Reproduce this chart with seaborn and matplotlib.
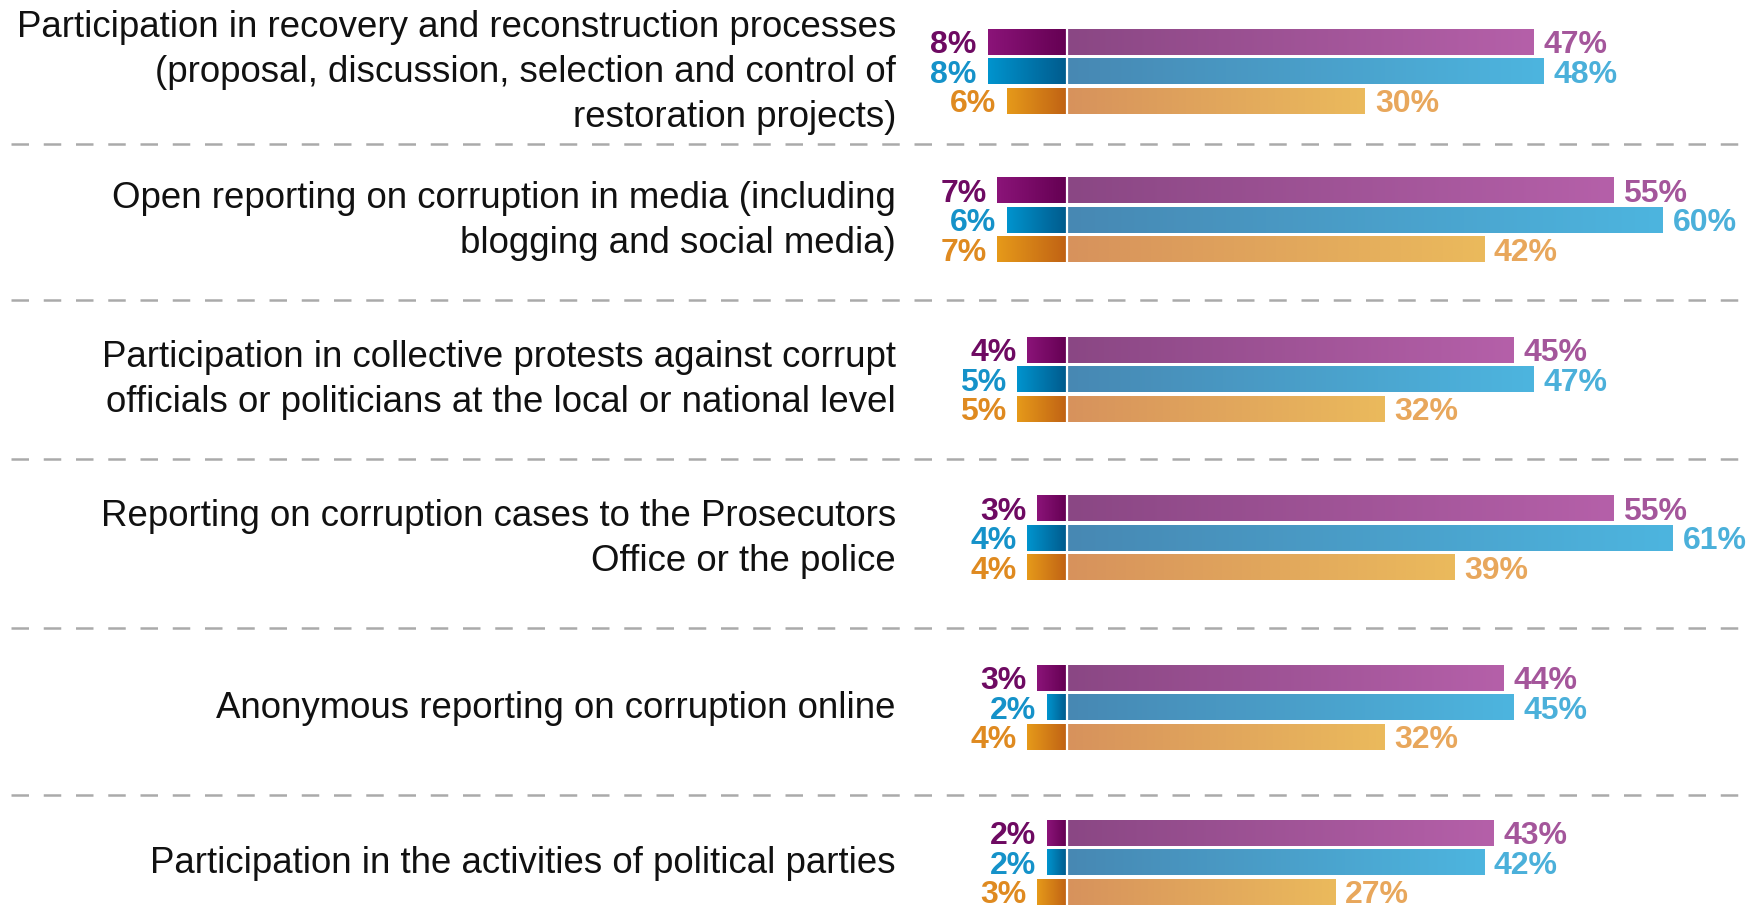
import matplotlib.pyplot as plt
import numpy as np
import pandas as pd
import seaborn as sns
from matplotlib.colors import LinearSegmentedColormap

# 항목(왼쪽 라벨)과 시리즈별 값
ITEMS = [
    "Participation in recovery and reconstruction processes\n(proposal, discussion, selection and control of\nrestoration projects)",
    "Open reporting on corruption in media (including\nblogging and social media)",
    "Participation in collective protests against corrupt\nofficials or politicians at the local or national level",
    "Reporting on corruption cases to the Prosecutors\nOffice or the police",
    "Anonymous reporting on corruption online",
    "Participation in the activities of political parties",
]
SERIES = ["purple", "blue", "orange"]

NEG_PURPLE = [8, 7, 4, 3, 3, 2]
NEG_BLUE = [8, 6, 5, 4, 2, 2]
NEG_ORANGE = [6, 7, 5, 4, 4, 3]

POS_PURPLE = [47, 55, 45, 55, 44, 43]
POS_BLUE = [48, 60, 47, 61, 45, 42]
POS_ORANGE = [30, 42, 32, 39, 32, 27]

# 레이아웃 (픽셀 단위, 위에서부터)
W, H = 1749, 909
ZERO_PX = 1067
PX_PER_PCT = 9.93
GROUP_CENTERS = [71.4, 219.8, 379.3, 537.7, 707.2, 862.3]
DIVIDERS = [143.9, 300.1, 458.5, 628.0, 795.4]
PITCH = 29.6

# 색상: (바깥쪽, 0 쪽) / (0 쪽, 끝)
NEG_GRAD = {
    "purple": ("#8B1479", "#640052"),
    "blue": ("#0094CE", "#005A8C"),
    "orange": ("#E69A1A", "#C06214"),
}
POS_GRAD = {
    "purple": ("#8A4784", "#B560A9"),
    "blue": ("#4788B3", "#4DB5DF"),
    "orange": ("#D7925C", "#EBBA5C"),
}
NEG_TEXT = {"purple": "#6E0A62", "blue": "#1592C9", "orange": "#DF8A20"}
POS_TEXT = {"purple": "#A4569B", "blue": "#4BB0DA", "orange": "#E8A75C"}

sns.set_theme(style="white")
plt.rcParams["font.family"] = ["Liberation Sans", "DejaVu Sans"]
NUM_FONT = ["Liberation Sans Narrow", "Liberation Sans", "DejaVu Sans"]

neg_vals = {"purple": NEG_PURPLE, "blue": NEG_BLUE, "orange": NEG_ORANGE}
pos_vals = {"purple": POS_PURPLE, "blue": POS_BLUE, "orange": POS_ORANGE}

rows = []
for i, center in enumerate(GROUP_CENTERS):
    for k, s in enumerate(SERIES):
        y = center + (k - 1) * PITCH
        rows.append({"y": y, "series": s, "neg": -neg_vals[s][i], "pos": pos_vals[s][i]})
bars = pd.DataFrame(rows)

fig = plt.figure(figsize=(W / 100, H / 100), dpi=100)
ax = fig.add_axes([0, 0, 1, 1])

mid_palette = {s: POS_GRAD[s][0] for s in SERIES}
for col in ["pos", "neg"]:
    sns.barplot(
        data=bars, x=col, y="y", hue="series", palette=mid_palette,
        orient="h", native_scale=True, dodge=False, width=0.88,
        errorbar=None, legend=False, ax=ax, linewidth=0,
    )

xlim = (-ZERO_PX / PX_PER_PCT, (W - ZERO_PX) / PX_PER_PCT)
ylim = (H, 0)

# 그라데이션 채우기
y_to_series = dict(zip(bars["y"].round(1), bars["series"]))
for patch in list(ax.patches):
    x0, y0 = patch.get_x(), patch.get_y()
    w, h = patch.get_width(), patch.get_height()
    if w == 0:
        continue
    left, right = min(x0, x0 + w), max(x0, x0 + w)
    yc = round(y0 + h / 2, 1)
    s = y_to_series[min(y_to_series, key=lambda v: abs(v - yc))]
    c0, c1 = NEG_GRAD[s] if left < 0 else POS_GRAD[s]
    cmap = LinearSegmentedColormap.from_list("g", [c0, c1])
    grad = np.linspace(0, 1, 256).reshape(1, -1)
    im = ax.imshow(grad, cmap=cmap, aspect="auto",
                   extent=(left, right, y0 + h, y0), zorder=3)
    im.set_clip_path(patch)

ax.axvline(0, color="white", lw=1.6, zorder=5)

# 값 라벨
for _, r in bars.iterrows():
    s = r["series"]
    ax.text(r["neg"] - 1.1, r["y"], f"{-int(r['neg'])}%", ha="right", va="center_baseline",
            color=NEG_TEXT[s], fontsize=23, fontweight="bold", family=NUM_FONT, zorder=6)
    ax.text(r["pos"] + 1.0, r["y"], f"{int(r['pos'])}%", ha="left", va="center_baseline",
            color=POS_TEXT[s], fontsize=23, fontweight="bold", family=NUM_FONT, zorder=6)

# 항목 라벨
label_x = (896 - ZERO_PX) / PX_PER_PCT
for item, center in zip(ITEMS, GROUP_CENTERS):
    ax.text(label_x, center + 1, item, ha="right", va="center", fontsize=26.4,
            color="#111111", linespacing=1.37)

# 점선 구분선
for y in DIVIDERS:
    ax.plot([(11 - ZERO_PX) / PX_PER_PCT, xlim[1]], [y, y], color="#AAAAAA",
            lw=1.8, dashes=(7.0, 5.9), zorder=1)

ax.set_xlim(*xlim)
ax.set_ylim(*ylim)
ax.set_axis_off()

fig.savefig("out.png", dpi=100)
